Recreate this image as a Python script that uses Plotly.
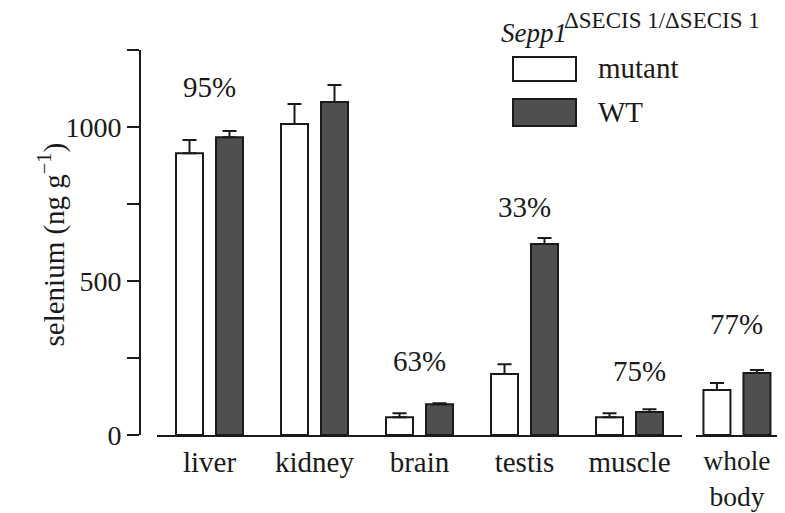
import plotly.graph_objects as go

# ---- data ----
organs = ["liver", "kidney", "brain", "testis", "muscle"]
mutant_se = [915, 1010, 58, 198, 58]
mutant_err = [43, 65, 13, 32, 13]
wt_se = [967, 1081, 100, 620, 75]
wt_err = [20, 55, 3, 20, 9]

whole_label = ["whole body"]
whole_tick = ["whole<br>body"]
whole_mutant = [146]
whole_mutant_err = [23]
whole_wt = [201]
whole_wt_err = [10]

pct_cats = ["liver", "brain", "testis", "muscle"]
pct_text = ["95%", "63%", "33%", "75%"]
pct_y = [1130, 240, 739, 208]
pct_shift = [0, 0, 0, 10]
whole_pct_text = "77%"
whole_pct_y = 360

y_ticks = [0, 250, 500, 750, 1000, 1250]
y_ticktext = ["0", "", "500", "", "1000", ""]

legend_names = ["mutant", "WT"]

# ---- style ----
OFF = 8                     # page body margin
W, H = 785 - OFF, 513 - OFF
FONT = "'Liberation Serif', 'Times New Roman', Times, 'DejaVu Serif', serif"
INK = "#1a1a1a"
WT_FILL = "#4f4f4f"
MUT_FILL = "#ffffff"

def px_x(p):
    return (p - OFF) / W

def px_y(p):
    return 1 - (p - OFF) / H

fig = go.Figure()

def bars(x, y, err, fill, xa):
    fig.add_trace(go.Bar(
        x=x, y=y, xaxis=xa, yaxis="y",
        marker=dict(color=fill, line=dict(color=INK, width=2)),
        error_y=dict(type="data", array=err, arrayminus=[0] * len(err),
                     symmetric=False, color=INK, thickness=2, width=7),
        showlegend=False, hoverinfo="x+y",
    ))

bars(organs, mutant_se, mutant_err, MUT_FILL, "x")
bars(organs, wt_se, wt_err, WT_FILL, "x")
bars(whole_label, whole_mutant, whole_mutant_err, MUT_FILL, "x2")
bars(whole_label, whole_wt, whole_wt_err, WT_FILL, "x2")

annotations = []
for c, t, yv, sh in zip(pct_cats, pct_text, pct_y, pct_shift):
    annotations.append(dict(x=c, y=yv, xref="x", yref="y", text=t, showarrow=False,
                            xshift=sh, font=dict(family=FONT, size=29, color=INK)))
annotations.append(dict(x=whole_label[0], y=whole_pct_y, xref="x2", yref="y", text=whole_pct_text,
                        showarrow=False, font=dict(family=FONT, size=29, color=INK)))

# y-axis title
annotations.append(dict(x=px_x(31), y=px_y(245), xref="paper", yref="paper",
                        text="selenium (ng g<sup>−1</sup>)", textangle=-90, showarrow=False,
                        font=dict(family=FONT, size=29, color=INK)))

# legend (drawn manually to get large swatches)
annotations.append(dict(x=px_x(499), y=px_y(33), xref="paper", yref="paper", xanchor="left",
                        yanchor="middle", text="<i>Sepp1</i>", showarrow=False,
                        font=dict(family=FONT, size=27, color=INK)))
annotations.append(dict(x=px_x(562), y=px_y(20), xref="paper", yref="paper", xanchor="left",
                        yanchor="middle", text="ΔSECIS 1/ΔSECIS 1", showarrow=False,
                        font=dict(family=FONT, size=23, color=INK)))
shapes = []
legend_rows = [(57, 81, MUT_FILL, 68), (99, 126, WT_FILL, 112)]
for name, (y0, y1, fill, ty) in zip(legend_names, legend_rows):
    shapes.append(dict(type="rect", xref="paper", yref="paper",
                       x0=px_x(513), x1=px_x(576), y0=px_y(y1), y1=px_y(y0),
                       fillcolor=fill, line=dict(color=INK, width=2)))
    annotations.append(dict(x=px_x(596), y=px_y(ty), xref="paper", yref="paper", xanchor="left",
                            yanchor="middle", text=name, showarrow=False,
                            font=dict(family=FONT, size=29, color=INK)))

fig.update_layout(
    width=W, height=H,
    margin=dict(l=0, r=0, t=0, b=0, autoexpand=False),
    paper_bgcolor="white", plot_bgcolor="white",
    barmode="group", bargap=0.238, bargroupgap=0.325,
    font=dict(family=FONT, size=28, color=INK),
    xaxis=dict(domain=[px_x(157), px_x(682)], anchor="y", type="category",
               range=[-0.5, 4.5], showline=True, linewidth=2, linecolor=INK,
               ticks="", showgrid=False, zeroline=False, automargin=False,
               tickfont=dict(family=FONT, size=29, color=INK)),
    xaxis2=dict(domain=[px_x(696), px_x(784)], anchor="y", type="category",
                range=[-0.39, 0.448], showline=True, linewidth=2, linecolor=INK,
                ticks="", showgrid=False, zeroline=False, automargin=False,
                tickvals=whole_label, ticktext=whole_tick,
                tickfont=dict(family=FONT, size=27.5, color=INK)),
    yaxis=dict(domain=[px_y(435), px_y(50)], anchor="free", position=px_x(140),
               range=[0, 1250], showline=True, linewidth=2, linecolor=INK,
               ticks="outside", ticklen=12, tickwidth=2, tickcolor=INK, automargin=False,
               tickvals=y_ticks, ticktext=y_ticktext, showgrid=False, zeroline=False,
               tickfont=dict(family=FONT, size=28, color=INK)),
    annotations=annotations,
    shapes=shapes,
)

fig.write_html("out.html")
